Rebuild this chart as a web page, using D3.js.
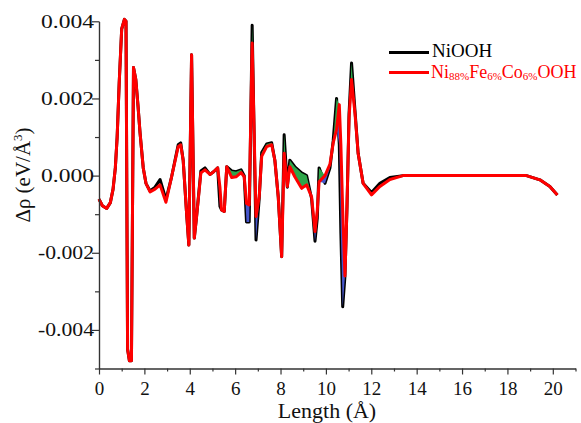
<!DOCTYPE html>
<html>
<head>
<meta charset="utf-8">
<script src="https://cdn.jsdelivr.net/npm/d3@7"></script>
<style>
  body { margin: 0; background: #fff; }
  svg text { font-family: "Liberation Serif", "DejaVu Serif", "Times New Roman", Times, serif; }
</style>
</head>
<body>
<div id="chart"></div>
<script>
// distance along the path (Å)
var lengths = [0, 0.15, 0.34, 0.5, 0.62, 0.72, 0.8, 0.89, 1.0, 1.12, 1.19, 1.26, 1.34, 1.43, 1.52, 1.62, 1.72, 1.81, 1.95, 2.07,
    2.25, 2.47, 2.69, 2.95, 3.2, 3.49, 3.6, 3.71, 3.86, 3.96, 4.08, 4.2, 4.3, 4.49, 4.67, 4.89, 5.05, 5.23, 5.33, 5.4,
    5.52, 5.63, 5.85, 6.04, 6.26, 6.4, 6.5, 6.62, 6.75, 6.92, 7.06, 7.17, 7.39, 7.61, 7.75, 7.9, 8.05, 8.16, 8.3, 8.41,
    8.63, 8.93, 9.15, 9.37, 9.52, 9.62, 9.7, 9.96, 10.18, 10.32, 10.47, 10.59, 10.66, 10.74, 10.84, 10.93, 11.02, 11.13, 11.28, 11.42,
    11.64, 12.01, 12.38, 12.82, 13.4, 14.5, 16, 17.5, 18.84, 19.43, 19.87, 20.2];

// NiOOH
var niooh = [-0.00061, -0.00078, -0.00085, -0.0007, -0.00035, 0.0002, 0.001, 0.0024, 0.0038, 0.00405, 0.004, -0.0045, -0.0048, -0.0048, 0.0028, 0.0025, 0.0018, 0.0011, 0.0002, -0.0002,
    -0.0004, -0.0003, -0.0001, -0.00062, -0.00003, 0.0008, 0.00085, 0.0004, -0.00097, -0.0018, 0.00313, -0.00162, -0.00106, 0.00012, 0.0002, 0.00003, 0.0001, 0.0002, -0.0008, -0.00089,
    -0.00093, 0.00023, 0.00012, 0.0001, 0.00015, 0.0, -0.0012, -0.0012, 0.0039, -0.00167, -0.0006, 0.0006, 0.00082, 0.00085, 0.0004, -0.00055, -0.0021, 0.00106, -0.0003, 0.0004,
    0.00023, 0.00007, 0.0, -0.0006, -0.0017, -0.0011, 0.0002, -0.0002, 0.0002, 0.0009, 0.002, 0.0008, -0.0015, -0.0034, -0.0026, -0.0008, 0.0016, 0.00292, 0.0017, 0.00058,
    -0.0002, -0.00044, -0.0002, -0.00005, 0.0, 0.0, 0.0, 0.0, 0.0, -0.00011, -0.00028, -0.0005];

// Ni88%Fe6%Co6%OOH
var nifeco = [-0.00061, -0.00078, -0.00085, -0.0007, -0.00035, 0.0002, 0.001, 0.0024, 0.0038, 0.00405, 0.004, -0.0045, -0.0048, -0.0048, 0.0028, 0.0025, 0.0018, 0.0011, 0.0002, -0.0002,
    -0.00042, -0.00035, -0.00024, -0.00069, -0.00003, 0.00075, 0.0008, 0.0004, -0.00097, -0.0018, 0.00313, -0.00162, -0.00106, 0.00007, 0.00015, 0.00003, 0.0001, 0.0002, -0.0003, -0.00089,
    -0.00093, 0.00023, -0.00005, -0.00003, 0.00008, -0.00003, -0.00072, -0.00076, 0.00344, -0.00106, -0.00055, 0.0005, 0.00075, 0.0008, 0.0004, -0.00055, -0.0021, 0.00058, -0.00028, 0.00023,
    -0.00003, -0.00033, -0.00024, -0.00055, -0.00145, -0.0009, -0.00016, 0.0, 0.0003, 0.00084, 0.0012, 0.00184, 0.0008, -0.0009, -0.0026, -0.0008, 0.0015, 0.00249, 0.00162, 0.00058,
    -0.0002, -0.0005, -0.00028, -0.0001, 0.0, 0.0, 0.0, 0.0, 0.0, -0.00011, -0.00028, -0.0005];

var seriesNames = ["NiOOH", "Ni88%Fe6%Co6%OOH"];
var xTicks = [0, 2, 4, 6, 8, 10, 12, 14, 16, 18, 20];
var xMinor = [1, 3, 5, 7, 9, 11, 13, 15, 17, 19, 21];
var yTicks = [-0.004, -0.002, 0, 0.002, 0.004];
var yMinor = [-0.005, -0.003, -0.001, 0.001, 0.003];

var width = 581;
var height = 423;
var serif = '"Liberation Serif", "DejaVu Serif", "Times New Roman", Times, serif';

var data = lengths.map(function (d, i) {
    return { x: d, a: niooh[i], b: nifeco[i] };
});

var svg = d3.select('#chart')
    .append('svg')
    .attr('width', width)
    .attr('height', height)
    .attr('font-family', serif);

var xscale = d3.scaleLinear().domain([0, 21]).range([99, 575.5]);
var yscale = d3.scaleLinear().domain([-0.005, 0.004]).range([368.5, 21.3]);

// difference shading, only over the region where the two runs separate
var band = data.filter(function (d) { return d.x >= 5.2 && d.x <= 11.45; });

var areaUp = d3.area()
    .x(function (d) { return xscale(d.x); })
    .y0(function (d) { return yscale(d.b); })
    .y1(function (d) { return yscale(Math.max(d.a, d.b)); });

var areaDown = d3.area()
    .x(function (d) { return xscale(d.x); })
    .y0(function (d) { return yscale(d.b); })
    .y1(function (d) { return yscale(Math.min(d.a, d.b)); });

var lineA = d3.line()
    .x(function (d) { return xscale(d.x); })
    .y(function (d) { return yscale(d.a); });

var lineB = d3.line()
    .x(function (d) { return xscale(d.x); })
    .y(function (d) { return yscale(d.b); });

svg.append('path')
    .datum(data)
    .attr('d', lineA)
    .attr('fill', 'none')
    .attr('stroke', '#000')
    .attr('stroke-width', 3)
    .attr('stroke-linejoin', 'round');

svg.append('path')
    .datum(band)
    .attr('d', areaUp)
    .attr('fill', '#2ea64a');

svg.append('path')
    .datum(band)
    .attr('d', areaDown)
    .attr('fill', '#4656cc');

svg.append('path')
    .datum(data)
    .attr('d', lineB)
    .attr('fill', 'none')
    .attr('stroke', '#ff0000')
    .attr('stroke-width', 3)
    .attr('stroke-linejoin', 'round');

// axes
var xaxis = d3.axisBottom(xscale).tickValues(xTicks).tickSize(6).tickSizeOuter(0).tickFormat(d3.format('d'));
var xaxisMinor = d3.axisBottom(xscale).tickValues(xMinor).tickSize(3).tickSizeOuter(0).tickFormat('');
var yaxis = d3.axisLeft(yscale).tickValues(yTicks).tickSize(7).tickSizeOuter(0).tickFormat(function (d) { return d.toFixed(3); });
var yaxisMinor = d3.axisLeft(yscale).tickValues(yMinor).tickSize(4).tickSizeOuter(0).tickFormat('');

var gx = svg.append('g').attr('transform', 'translate(0,368.5)').call(xaxis);
svg.append('g').attr('transform', 'translate(0,368.5)').call(xaxisMinor);
var gy = svg.append('g').attr('transform', 'translate(99,0)').call(yaxis);
svg.append('g').attr('transform', 'translate(99,0)').call(yaxisMinor);

svg.selectAll('g').attr('font-family', serif);
svg.selectAll('.domain').attr('stroke', '#333').attr('stroke-width', 1.2);
svg.selectAll('.tick line').attr('stroke', '#333').attr('stroke-width', 1.2);

gx.selectAll('text')
    .attr('font-size', 19)
    .attr('fill', '#111')
    .attr('dy', '0.9em');

gy.selectAll('text')
    .attr('font-size', 18)
    .attr('fill', '#111')
    .attr('x', -5)
    .attr('textLength', function (d) { return d < 0 ? 56 : 53; })
    .attr('lengthAdjust', 'spacingAndGlyphs');

// axis titles
svg.append('text')
    .attr('x', 327)
    .attr('y', 418)
    .attr('text-anchor', 'middle')
    .attr('font-size', 22)
    .attr('fill', '#111')
    .text('Length (Å)');

var ylab = svg.append('text')
    .attr('transform', 'translate(30,175) rotate(-90)')
    .attr('text-anchor', 'middle')
    .attr('font-size', 21)
    .attr('fill', '#111');
ylab.append('tspan').text('Δρ (eV/Å');
ylab.append('tspan').attr('font-size', 13).attr('dy', -8).text('3');
ylab.append('tspan').attr('dy', 8).text(')');

// legend
var legend = svg.append('g');
legend.append('line')
    .attr('x1', 389).attr('x2', 429).attr('y1', 52.5).attr('y2', 52.5)
    .attr('stroke', '#000').attr('stroke-width', 3);
legend.append('text')
    .attr('x', 432).attr('y', 57)
    .attr('font-size', 19)
    .attr('fill', '#000')
    .text(seriesNames[0]);

legend.append('line')
    .attr('x1', 389).attr('x2', 429).attr('y1', 72.5).attr('y2', 72.5)
    .attr('stroke', '#ff0000').attr('stroke-width', 3);
var lt = legend.append('text')
    .attr('x', 431).attr('y', 77.5)
    .attr('font-size', 18)
    .attr('fill', '#ff0000');
// split the composition so the percentages sit as subscripts
var parts = seriesNames[1].match(/[A-Za-z]+|[0-9]+%/g);
parts.forEach(function (p) {
    var sub = /%/.test(p);
    lt.append('tspan')
        .attr('font-size', sub ? 11 : 18)
        .attr('dy', sub ? 2 : -2)
        .text(p);
});
lt.select('tspan').attr('dy', 0);
</script>
</body>
</html>
